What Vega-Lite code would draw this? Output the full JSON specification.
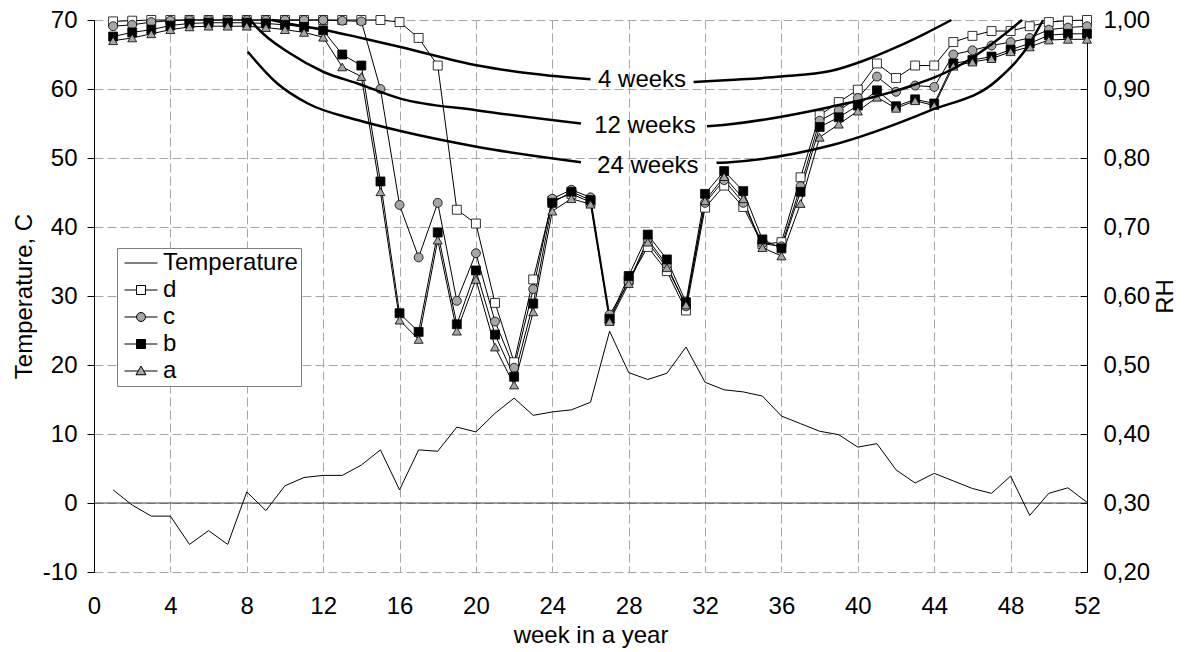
{
  "$schema": "https://vega.github.io/schema/vega-lite/v6.json",
  "autosize": {"type": "none"},
  "width": 993,
  "height": 552,
  "padding": {"left": 94, "top": 20, "right": 105, "bottom": 80},
  "background": "white",
  "config": {
    "font": "Liberation Sans",
    "view": {"stroke": null},
    "axis": {"labelFontSize": 24, "titleFontSize": 24, "titleFontWeight": "normal", "labelColor": "black", "titleColor": "black", "labelFont": "Liberation Sans", "titleFont": "Liberation Sans"},
    "legend": {"labelFont": "Liberation Sans"}
  },
  "datasets": {
    "weekly": [
      {"week": 1, "t": 1.9, "a": 0.970, "b": 0.976, "c": 0.991, "d": 0.998},
      {"week": 2, "t": -0.3, "a": 0.974, "b": 0.982, "c": 0.993, "d": 0.999},
      {"week": 3, "t": -1.9, "a": 0.980, "b": 0.986, "c": 0.997, "d": 1.000},
      {"week": 4, "t": -1.9, "a": 0.986, "b": 0.992, "c": 0.999, "d": 1.000},
      {"week": 5, "t": -6.0, "a": 0.990, "b": 0.995, "c": 1.000, "d": 1.000},
      {"week": 6, "t": -4.0, "a": 0.991, "b": 0.996, "c": 1.000, "d": 1.000},
      {"week": 7, "t": -6.0, "a": 0.991, "b": 0.996, "c": 1.000, "d": 1.000},
      {"week": 8, "t": 1.6, "a": 0.991, "b": 0.996, "c": 1.000, "d": 1.000},
      {"week": 9, "t": -1.1, "a": 0.989, "b": 0.995, "c": 1.000, "d": 1.000},
      {"week": 10, "t": 2.5, "a": 0.986, "b": 0.993, "c": 1.000, "d": 1.000},
      {"week": 11, "t": 3.7, "a": 0.982, "b": 0.990, "c": 1.000, "d": 1.000},
      {"week": 12, "t": 4.0, "a": 0.975, "b": 0.985, "c": 1.000, "d": 1.000},
      {"week": 13, "t": 4.0, "a": 0.932, "b": 0.950, "c": 0.999, "d": 1.000},
      {"week": 14, "t": 5.5, "a": 0.918, "b": 0.934, "c": 0.998, "d": 1.000},
      {"week": 15, "t": 7.7, "a": 0.751, "b": 0.766, "c": 0.900, "d": 1.000},
      {"week": 16, "t": 1.9, "a": 0.565, "b": 0.575, "c": 0.732, "d": 0.997},
      {"week": 17, "t": 7.7, "a": 0.537, "b": 0.548, "c": 0.656, "d": 0.974},
      {"week": 18, "t": 7.5, "a": 0.681, "b": 0.692, "c": 0.735, "d": 0.934},
      {"week": 19, "t": 11.0, "a": 0.549, "b": 0.559, "c": 0.593, "d": 0.725},
      {"week": 20, "t": 10.3, "a": 0.624, "b": 0.637, "c": 0.662, "d": 0.705},
      {"week": 21, "t": 13.0, "a": 0.526, "b": 0.544, "c": 0.563, "d": 0.590},
      {"week": 22, "t": 15.2, "a": 0.471, "b": 0.483, "c": 0.496, "d": 0.504},
      {"week": 23, "t": 12.7, "a": 0.577, "b": 0.589, "c": 0.610, "d": 0.624},
      {"week": 24, "t": 13.2, "a": 0.723, "b": 0.735, "c": 0.741, "d": 0.738},
      {"week": 25, "t": 13.5, "a": 0.741, "b": 0.751, "c": 0.754, "d": 0.748},
      {"week": 26, "t": 14.6, "a": 0.733, "b": 0.739, "c": 0.743, "d": 0.736},
      {"week": 27, "t": 24.9, "a": 0.563, "b": 0.567, "c": 0.573, "d": 0.565},
      {"week": 28, "t": 18.9, "a": 0.618, "b": 0.629, "c": 0.620, "d": 0.623},
      {"week": 29, "t": 17.9, "a": 0.678, "b": 0.689, "c": 0.682, "d": 0.671},
      {"week": 30, "t": 18.8, "a": 0.641, "b": 0.653, "c": 0.645, "d": 0.636},
      {"week": 31, "t": 22.6, "a": 0.587, "b": 0.591, "c": 0.585, "d": 0.579},
      {"week": 32, "t": 17.5, "a": 0.738, "b": 0.748, "c": 0.735, "d": 0.728},
      {"week": 33, "t": 16.4, "a": 0.773, "b": 0.781, "c": 0.768, "d": 0.760},
      {"week": 34, "t": 16.1, "a": 0.741, "b": 0.752, "c": 0.735, "d": 0.729},
      {"week": 35, "t": 15.5, "a": 0.670, "b": 0.682, "c": 0.676, "d": 0.675},
      {"week": 36, "t": 12.6, "a": 0.658, "b": 0.669, "c": 0.672, "d": 0.678},
      {"week": 37, "t": 11.5, "a": 0.734, "b": 0.751, "c": 0.759, "d": 0.772},
      {"week": 38, "t": 10.4, "a": 0.830, "b": 0.845, "c": 0.854, "d": 0.862},
      {"week": 39, "t": 9.9, "a": 0.849, "b": 0.859, "c": 0.869, "d": 0.881},
      {"week": 40, "t": 8.1, "a": 0.868, "b": 0.876, "c": 0.887, "d": 0.899},
      {"week": 41, "t": 8.6, "a": 0.888, "b": 0.898, "c": 0.918, "d": 0.937},
      {"week": 42, "t": 4.8, "a": 0.872, "b": 0.875, "c": 0.896, "d": 0.916},
      {"week": 43, "t": 2.9, "a": 0.883, "b": 0.885, "c": 0.905, "d": 0.934},
      {"week": 44, "t": 4.3, "a": 0.876, "b": 0.879, "c": 0.903, "d": 0.934},
      {"week": 45, "t": 3.2, "a": 0.933, "b": 0.937, "c": 0.950, "d": 0.968},
      {"week": 46, "t": 2.1, "a": 0.939, "b": 0.942, "c": 0.956, "d": 0.977},
      {"week": 47, "t": 1.4, "a": 0.944, "b": 0.947, "c": 0.963, "d": 0.984},
      {"week": 48, "t": 3.9, "a": 0.954, "b": 0.957, "c": 0.968, "d": 0.984},
      {"week": 49, "t": -1.8, "a": 0.961, "b": 0.966, "c": 0.974, "d": 0.991},
      {"week": 50, "t": 1.4, "a": 0.971, "b": 0.978, "c": 0.986, "d": 0.997},
      {"week": 51, "t": 2.2, "a": 0.972, "b": 0.980, "c": 0.989, "d": 0.999},
      {"week": 52, "t": 0.1, "a": 0.972, "b": 0.980, "c": 0.991, "d": 1.000}
    ],
    "curves": [
      {"seg": "4 weeks L", "week": 9.3, "rh": 1.000},
      {"seg": "4 weeks L", "week": 10.5, "rh": 0.993},
      {"seg": "4 weeks L", "week": 12.0, "rh": 0.986},
      {"seg": "4 weeks L", "week": 14.0, "rh": 0.974},
      {"seg": "4 weeks L", "week": 16.05, "rh": 0.961},
      {"seg": "4 weeks L", "week": 20.1, "rh": 0.934},
      {"seg": "4 weeks L", "week": 23.0, "rh": 0.922},
      {"seg": "4 weeks L", "week": 26.0, "rh": 0.914},
      {"seg": "4 weeks R", "week": 31.4, "rh": 0.910},
      {"seg": "4 weeks R", "week": 33.3, "rh": 0.913},
      {"seg": "4 weeks R", "week": 36.0, "rh": 0.918},
      {"seg": "4 weeks R", "week": 38.56, "rh": 0.926},
      {"seg": "4 weeks R", "week": 40.3, "rh": 0.941},
      {"seg": "4 weeks R", "week": 42.05, "rh": 0.961},
      {"seg": "4 weeks R", "week": 43.5, "rh": 0.980},
      {"seg": "4 weeks R", "week": 44.9, "rh": 1.000},
      {"seg": "12 weeks L", "week": 8.2, "rh": 1.000},
      {"seg": "12 weeks L", "week": 8.5, "rh": 0.990},
      {"seg": "12 weeks L", "week": 10.3, "rh": 0.951},
      {"seg": "12 weeks L", "week": 12.0, "rh": 0.925},
      {"seg": "12 weeks L", "week": 13.8, "rh": 0.908},
      {"seg": "12 weeks L", "week": 16.05, "rh": 0.886},
      {"seg": "12 weeks L", "week": 20.1, "rh": 0.869},
      {"seg": "12 weeks L", "week": 25.5, "rh": 0.850},
      {"seg": "12 weeks R", "week": 32.1, "rh": 0.846},
      {"seg": "12 weeks R", "week": 33.3, "rh": 0.849},
      {"seg": "12 weeks R", "week": 38.56, "rh": 0.874},
      {"seg": "12 weeks R", "week": 42.05, "rh": 0.898},
      {"seg": "12 weeks R", "week": 45.5, "rh": 0.937},
      {"seg": "12 weeks R", "week": 47.0, "rh": 0.965},
      {"seg": "12 weeks R", "week": 48.6, "rh": 1.000},
      {"seg": "24 weeks L", "week": 8.05, "rh": 0.954},
      {"seg": "24 weeks L", "week": 9.6, "rh": 0.908},
      {"seg": "24 weeks L", "week": 11.2, "rh": 0.879},
      {"seg": "24 weeks L", "week": 13.8, "rh": 0.855},
      {"seg": "24 weeks L", "week": 16.05, "rh": 0.839},
      {"seg": "24 weeks L", "week": 20.1, "rh": 0.816},
      {"seg": "24 weeks L", "week": 25.5, "rh": 0.794},
      {"seg": "24 weeks R", "week": 32.6, "rh": 0.793},
      {"seg": "24 weeks R", "week": 33.3, "rh": 0.794},
      {"seg": "24 weeks R", "week": 38.56, "rh": 0.818},
      {"seg": "24 weeks R", "week": 43.8, "rh": 0.869},
      {"seg": "24 weeks R", "week": 47.3, "rh": 0.913},
      {"seg": "24 weeks R", "week": 49.0, "rh": 0.966},
      {"seg": "24 weeks R", "week": 49.7, "rh": 1.000}
    ],
    "labels": [
      {"label": "4 weeks", "week": 28.7, "rh": 0.913},
      {"label": "12 weeks", "week": 28.85, "rh": 0.846},
      {"label": "24 weeks", "week": 29.0, "rh": 0.788}
    ],
    "legendItems": [
      {"s": "Temperature"}, {"s": "d"}, {"s": "c"}, {"s": "b"}, {"s": "a"}
    ]
  },
  "resolve": {"scale": {"y": "independent", "shape": "independent", "fill": "independent", "stroke": "independent"}, "axis": {"y": "independent"}},
  "layer": [
    {
      "layer": [
        {
          "data": {"values": [{}]},
          "mark": {"type": "rule", "color": "#404040", "strokeWidth": 1},
          "encoding": {"y": {"datum": 0, "type": "quantitative"}}
        },
        {
          "data": {"name": "weekly"},
          "mark": {"type": "line", "color": "black", "strokeWidth": 1},
          "encoding": {
            "x": {"field": "week", "type": "quantitative", "scale": {"domain": [0, 52], "nice": false, "zero": false},
              "axis": {"values": [0, 4, 8, 12, 16, 20, 24, 28, 32, 36, 40, 44, 48, 52], "grid": true, "gridDash": [9, 4], "gridColor": "#a6a6a6", "gridWidth": 1, "ticks": false, "domain": false, "labelPadding": 22, "labelFlush": false, "title": "week in a year", "titlePadding": 5}},
            "y": {"field": "t", "type": "quantitative", "scale": {"domain": [-10, 70], "nice": false, "zero": false},
              "axis": {"orient": "left", "values": [-10, -5, 0, 5, 10, 15, 20, 25, 30, 35, 40, 45, 50, 55, 60, 65, 70], "grid": true, "gridDash": [9, 4], "gridColor": "#a6a6a6", "gridWidth": 1,
                "tickColor": {"condition": {"test": "datum.value % 10 === 0", "value": "black"}, "value": "transparent"},
                "tickSize": 7, "domainColor": "black", "labelPadding": 10,
                "labelExpr": "datum.value % 10 === 0 ? '' + datum.value : ''", "title": "Temperature, C", "titlePadding": 6}}
          }
        }
      ]
    },
    {
      "encoding": {
        "x": {"field": "week", "type": "quantitative", "scale": {"domain": [0, 52], "nice": false, "zero": false}}
      },
      "layer": [
        {
          "data": {"name": "weekly"},
          "transform": [{"fold": ["d", "c", "b", "a"], "as": ["series", "rh"]}],
          "mark": {"type": "line", "color": "black", "strokeWidth": 1},
          "encoding": {
            "y": {"field": "rh", "type": "quantitative", "scale": {"domain": [0.2, 1.0], "nice": false, "zero": false},
              "axis": {"orient": "right", "values": [0.2, 0.3, 0.4, 0.5, 0.6, 0.7, 0.8, 0.9, 1.0], "grid": false, "tickSize": -7, "tickColor": "black", "domainColor": "black", "labelPadding": 23,
                "labelExpr": "replace(format(datum.value, '.2f'), '.', ',')", "title": "RH", "titleAngle": -90, "titleBaseline": "top", "titlePadding": 4}},
            "detail": {"field": "series", "type": "nominal"}
          }
        },
        {
          "data": {"name": "weekly"},
          "transform": [{"fold": ["d", "c", "b", "a"], "as": ["series", "rh"]}],
          "mark": {"type": "point", "filled": true, "size": 80, "stroke": "black", "strokeWidth": 0.8, "opacity": 1},
          "encoding": {
            "y": {"field": "rh", "type": "quantitative"},
            "shape": {"field": "series", "type": "nominal", "scale": {"domain": ["d", "c", "b", "a"], "range": ["square", "circle", "square", "triangle-up"]}, "legend": null},
            "fill": {"field": "series", "type": "nominal", "scale": {"domain": ["d", "c", "b", "a"], "range": ["white", "#a6a6a6", "black", "#a6a6a6"]}, "legend": null}
          }
        },
        {
          "data": {"name": "curves"},
          "mark": {"type": "line", "color": "black", "strokeWidth": 2.5, "interpolate": "monotone"},
          "encoding": {
            "y": {"field": "rh", "type": "quantitative"},
            "detail": {"field": "seg", "type": "nominal"}
          }
        },
        {
          "data": {"name": "labels"},
          "mark": {"type": "text", "fontSize": 24, "font": "Liberation Sans", "color": "black", "align": "center", "baseline": "middle"},
          "encoding": {
            "y": {"field": "rh", "type": "quantitative"},
            "text": {"field": "label", "type": "nominal"}
          }
        }
      ]
    },
    {
      "data": {"name": "legendItems"},
      "mark": {"type": "point", "filled": true, "opacity": 0, "strokeWidth": 1},
      "encoding": {
        "shape": {"field": "s", "type": "nominal",
          "scale": {"domain": ["Temperature", "d", "c", "b", "a"],
            "range": ["M-3.3,0H3.3", "M-3.3,0H-0.9M0.9,0H3.3M-0.9,-0.9H0.9V0.9H-0.9Z", "M-3.3,0H-0.9M0.9,0H3.3M-0.9,0A0.9,0.9,0,1,0,0.9,0A0.9,0.9,0,1,0,-0.9,0Z", "M-3.3,0H-0.9M0.9,0H3.3M-0.9,-0.9H0.9V0.9H-0.9Z", "M-3.3,0H-0.55M0.55,0H3.3M0,-1L1,0.75H-1Z"]},
          "legend": {"orient": "none", "legendX": 23, "legendY": 228, "title": null, "padding": 3, "strokeColor": "#808080", "fillColor": "white", "labelFontSize": 24, "labelColor": "black", "symbolSize": 100, "symbolStrokeWidth": 1, "symbolOpacity": 1, "rowPadding": 3, "symbolOffset": 9, "labelOffset": 10, "labelLimit": 300}},
        "fill": {"field": "s", "type": "nominal",
          "scale": {"domain": ["Temperature", "d", "c", "b", "a"], "range": ["white", "white", "#a6a6a6", "black", "#a6a6a6"]},
          "legend": {"orient": "none", "legendX": 23, "legendY": 228, "title": null, "padding": 3, "strokeColor": "#808080", "fillColor": "white", "labelFontSize": 24, "labelColor": "black", "symbolSize": 100, "symbolStrokeWidth": 1, "symbolOpacity": 1, "rowPadding": 3, "symbolOffset": 9, "labelOffset": 10, "labelLimit": 300}},
        "stroke": {"field": "s", "type": "nominal",
          "scale": {"domain": ["Temperature", "d", "c", "b", "a"], "range": ["black", "black", "black", "black", "black"]},
          "legend": {"orient": "none", "legendX": 23, "legendY": 228, "title": null, "padding": 3, "strokeColor": "#808080", "fillColor": "white", "labelFontSize": 24, "labelColor": "black", "symbolSize": 100, "symbolStrokeWidth": 1, "symbolOpacity": 1, "rowPadding": 3, "symbolOffset": 9, "labelOffset": 10, "labelLimit": 300}}
      }
    }
  ]
}
